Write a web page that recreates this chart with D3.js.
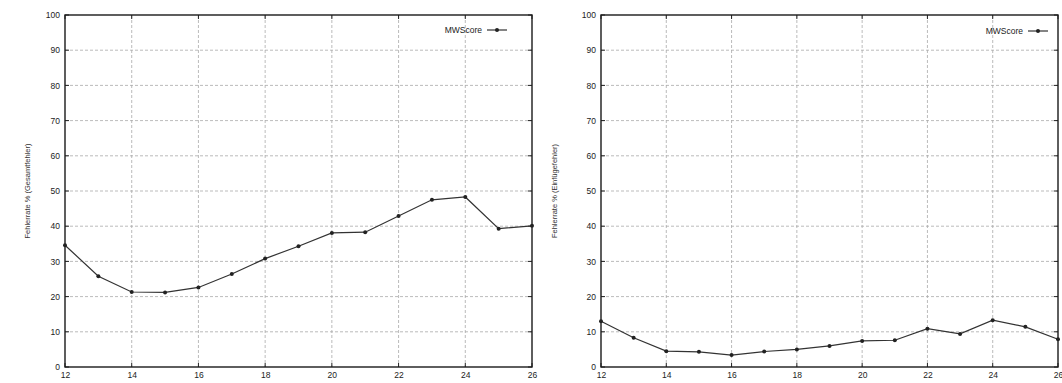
<!DOCTYPE html>
<html>
<head>
<meta charset="utf-8">
<script src="https://cdn.jsdelivr.net/npm/d3@7"></script>
<style>
  body { margin: 0; background: #fff; }
  svg { font-family: "Liberation Sans", Arial, sans-serif; }
</style>
</head>
<body>
<svg id="svg" width="1062" height="383"></svg>
<script>
// x values shared by both panels
const lengths = [12, 13, 14, 15, 16, 17, 18, 19, 20, 21, 22, 23, 24, 25, 26];
const totalErrors = [34.6, 25.8, 21.3, 21.2, 22.6, 26.4, 30.8, 34.3, 38.1, 38.3, 42.9, 47.5, 48.3, 39.3, 40.1];
const insertErrors = [13.0, 8.3, 4.5, 4.3, 3.4, 4.4, 5.0, 6.0, 7.4, 7.6, 10.9, 9.4, 13.3, 11.4, 7.9];
const xTicks = [12, 14, 16, 18, 20, 22, 24, 26];
const yTicks = [0, 10, 20, 30, 40, 50, 60, 70, 80, 90, 100];
const seriesName = "MWScore";

const svg = d3.select("#svg");

function panel(left, right, values, label, labelX, legendEnd, legendY) {
  const top = 15, bottom = 367;
  const x = d3.scaleLinear().domain([12, 26]).range([left, right]);
  const y = d3.scaleLinear().domain([0, 100]).range([bottom, top]);
  const g = svg.append("g");

  // grid
  g.append("g").selectAll("line").data(yTicks.slice(1, -1)).enter().append("line")
    .attr("x1", left).attr("x2", right)
    .attr("y1", d => y(d)).attr("y2", d => y(d))
    .attr("stroke", "#aaa").attr("stroke-width", 0.8).attr("stroke-dasharray", "3,2");
  g.append("g").selectAll("line").data(xTicks.slice(1, -1)).enter().append("line")
    .attr("x1", d => x(d)).attr("x2", d => x(d))
    .attr("y1", top).attr("y2", bottom)
    .attr("stroke", "#aaa").attr("stroke-width", 0.8).attr("stroke-dasharray", "3,2");

  // axes
  const yAxis = g.append("g").attr("transform", `translate(${left},0)`)
    .call(d3.axisLeft(y).tickValues(yTicks).tickSize(0).tickPadding(5));
  const xAxis = g.append("g").attr("transform", `translate(0,${bottom})`)
    .call(d3.axisBottom(x).tickValues(xTicks).tickSize(0).tickPadding(5));
  [yAxis, xAxis].forEach(a => {
    a.select(".domain").remove();
    a.selectAll("text").attr("font-size", 8.5).attr("fill", "#222");
  });
  // small inner ticks
  g.append("g").selectAll("line").data(xTicks).enter().append("line")
    .attr("x1", d => x(d)).attr("x2", d => x(d)).attr("y1", bottom).attr("y2", bottom - 4)
    .attr("stroke", "#222");
  g.append("g").selectAll("line").data(xTicks).enter().append("line")
    .attr("x1", d => x(d)).attr("x2", d => x(d)).attr("y1", top).attr("y2", top + 4)
    .attr("stroke", "#222");
  g.append("g").selectAll("line").data(yTicks).enter().append("line")
    .attr("x1", left).attr("x2", left + 4).attr("y1", d => y(d)).attr("y2", d => y(d))
    .attr("stroke", "#222");
  g.append("g").selectAll("line").data(yTicks).enter().append("line")
    .attr("x1", right).attr("x2", right - 4).attr("y1", d => y(d)).attr("y2", d => y(d))
    .attr("stroke", "#222");

  // frame
  g.append("rect").attr("x", left).attr("y", top)
    .attr("width", right - left).attr("height", bottom - top)
    .attr("fill", "none").attr("stroke", "#1a1a1a").attr("stroke-width", 1.4);

  // line + markers
  const data = lengths.map((l, i) => [l, values[i]]);
  g.append("path").datum(data)
    .attr("fill", "none").attr("stroke", "#333").attr("stroke-width", 1.2)
    .attr("d", d3.line().x(d => x(d[0])).y(d => y(d[1])));
  g.append("g").selectAll("circle").data(data).enter().append("circle")
    .attr("cx", d => x(d[0])).attr("cy", d => y(d[1])).attr("r", 2)
    .attr("fill", "#222");

  // legend
  const lx = legendEnd, ly = legendY;
  g.append("text").attr("x", lx).attr("y", ly + 3).attr("text-anchor", "end")
    .attr("font-size", 8.5).attr("fill", "#222").text(seriesName);
  g.append("line").attr("x1", lx + 5).attr("x2", lx + 25).attr("y1", ly).attr("y2", ly)
    .attr("stroke", "#333").attr("stroke-width", 1.2);
  g.append("circle").attr("cx", lx + 15).attr("cy", ly).attr("r", 2).attr("fill", "#222");

  // y label
  g.append("text").attr("transform", `translate(${labelX},${(top + bottom) / 2}) rotate(-90)`)
    .attr("text-anchor", "middle").attr("font-size", 7.5).attr("fill", "#333").text(label);
}

panel(65, 532, totalErrors, "Fehlerrate % (Gesamtfehler)", 30, 482, 30);
panel(601, 1058, insertErrors, "Fehlerrate % (Einfügefehler)", 557, 1023, 31);
</script>
</body>
</html>
